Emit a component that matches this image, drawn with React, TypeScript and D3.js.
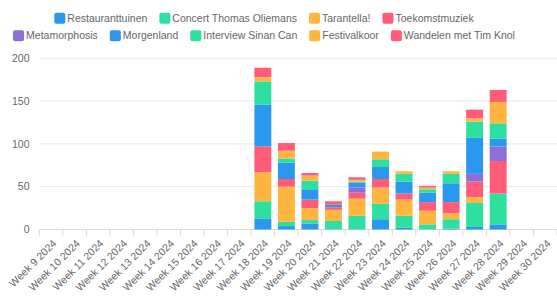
import * as d3 from "d3";
import { useEffect, useRef } from "react";

const weeks = [
  "Week 9 2024", "Week 10 2024", "Week 11 2024", "Week 12 2024", "Week 13 2024",
  "Week 14 2024", "Week 15 2024", "Week 16 2024", "Week 17 2024", "Week 18 2024",
  "Week 19 2024", "Week 20 2024", "Week 21 2024", "Week 22 2024", "Week 23 2024",
  "Week 24 2024", "Week 25 2024", "Week 26 2024", "Week 27 2024", "Week 28 2024",
  "Week 29 2024", "Week 30 2024",
];

const seriesNames = [
  "Restauranttuinen", "Concert Thomas Oliemans", "Tarantella!", "Toekomstmuziek",
  "Metamorphosis", "Morgenland", "Interview Sinan Can", "Festivalkoor", "Wandelen met Tim Knol",
];

const seriesColors = [
  "#2b98f0", "#2ee0a0", "#ffb53f", "#ff5c7a", "#8c6fd6", "#2b98f0", "#2ee0a0", "#ffb53f", "#ff5c7a",
];

// weeks 9..30
const restauranttuinen = [0, 0, 0, 0, 0, 0, 0, 0, 0, 13, 4, 7, 0, 0, 12, 2, 0, 1, 3, 6, 0, 0];
const concertThomasOliemans = [0, 0, 0, 0, 0, 0, 0, 0, 0, 20, 5, 4, 10, 16, 18, 14, 6, 11, 28, 36, 0, 0];
const tarantella = [0, 0, 0, 0, 0, 0, 0, 0, 0, 34, 41, 14, 13, 20, 19, 19, 16, 7, 7, 0, 0, 0];
const toekomstmuziek = [0, 0, 0, 0, 0, 0, 0, 0, 0, 30, 9, 10, 3, 7, 10, 7, 10, 13, 18, 38, 0, 0];
const metamorphosis = [0, 0, 0, 0, 0, 0, 0, 0, 0, 0, 0, 0, 0, 6, 0, 0, 0, 0, 9, 17, 0, 0];
const morgenland = [0, 0, 0, 0, 0, 0, 0, 0, 0, 49, 19, 12, 3, 6, 14, 14, 11, 22, 42, 9, 0, 0];
const interviewSinanCan = [0, 0, 0, 0, 0, 0, 0, 0, 0, 27, 5, 10, 0, 1, 9, 9, 4, 11, 19, 18, 0, 0];
const festivalkoor = [0, 0, 0, 0, 0, 0, 0, 0, 0, 5, 9, 6, 0, 2, 9, 3, 2, 3, 4, 25, 0, 0];
const wandelenMetTimKnol = [0, 0, 0, 0, 0, 0, 0, 0, 0, 11, 9, 3, 4, 3, 0, 0, 2, 0, 10, 14, 0, 0];

const seriesValues = [
  restauranttuinen, concertThomasOliemans, tarantella, toekomstmuziek, metamorphosis,
  morgenland, interviewSinanCan, festivalkoor, wandelenMetTimKnol,
];

const yTicks = [0, 50, 100, 150, 200];
const legendRows = [4, 5];

const App = () => {
  const ref = useRef<SVGSVGElement>(null);

  useEffect(() => {
    const svg = d3.select(ref.current);
    svg.selectAll("*").remove();
    const width = 557;
    const left = 39.3;
    const right = 557;
    const top = 58.3;
    const bottom = 229.5;
    const font = "'Helvetica Neue', Helvetica, 'Liberation Sans', Arial, sans-serif";
    const textColor = "#666";
    const fontSize = 10.5;

    const x = d3.scaleBand<string>().domain(weeks).range([left, right]).paddingInner(0.28).paddingOuter(0.14);
    const y = d3.scaleLinear().domain([0, 200]).range([bottom, top]);

    // grid
    svg.append("g")
      .selectAll("line")
      .data(yTicks)
      .join("line")
      .attr("x1", left)
      .attr("x2", width)
      .attr("y1", (d) => y(d))
      .attr("y2", (d) => y(d))
      .attr("stroke", (d) => (d === 0 ? "#d9d9d9" : "#e8e8e8"))
      .attr("stroke-width", 1);

    svg.append("g")
      .selectAll("text")
      .data(yTicks)
      .join("text")
      .attr("x", 29.5)
      .attr("y", (d) => y(d))
      .attr("dy", "0.35em")
      .attr("text-anchor", "end")
      .attr("font-family", font)
      .attr("font-size", fontSize)
      .attr("fill", textColor)
      .text((d) => d);

    // x ticks at category edges
    const step = x.step();
    const edges = d3.range(weeks.length + 1).map((i) => left + i * step);
    svg.append("g")
      .selectAll("line")
      .data(edges)
      .join("line")
      .attr("x1", (d) => d)
      .attr("x2", (d) => d)
      .attr("y1", bottom)
      .attr("y2", bottom + 6)
      .attr("stroke", "#d9d9d9");

    svg.append("g")
      .selectAll("text")
      .data(weeks)
      .join("text")
      .attr("transform", (d) => `translate(${(x(d) ?? 0) + x.bandwidth() / 2 + 3.5},${bottom + 12}) rotate(-45)`)
      .attr("dy", "0.35em")
      .attr("text-anchor", "end")
      .attr("font-family", font)
      .attr("font-size", fontSize)
      .attr("fill", textColor)
      .text((d) => d);

    // bars
    const table = weeks.map((w, i) => {
      const row: Record<string, number | string> = { week: w };
      seriesNames.forEach((name, k) => (row[name] = seriesValues[k][i]));
      return row;
    });
    const stacked = d3.stack<any>().keys(seriesNames)(table);

    svg.append("g")
      .selectAll("g")
      .data(stacked)
      .join("g")
      .attr("fill", (_, i) => seriesColors[i])
      .selectAll("rect")
      .data((d) => d.filter((p) => p[1] - p[0] > 0))
      .join("rect")
      .attr("x", (d) => x(d.data.week as string) ?? 0)
      .attr("width", x.bandwidth())
      .attr("y", (d) => y(d[1]))
      .attr("height", (d) => y(d[0]) - y(d[1]));

    // legend
    const legend = svg.append("g");
    const boxSize = 11;
    const textGap = 13;
    const itemGap = 12;
    const rowY = [18.3, 35.7];
    const centerX = 264;
    let start = 0;
    legendRows.forEach((count, r) => {
      const names = seriesNames.slice(start, start + count);
      const colors = seriesColors.slice(start, start + count);
      start += count;
      const rowG = legend.append("g");
      const items = names.map((name, i) => {
        const g = rowG.append("g");
        g.append("rect")
          .attr("width", boxSize)
          .attr("height", boxSize)
          .attr("y", -boxSize / 2)
          .attr("rx", 2)
          .attr("fill", colors[i]);
        const t = g.append("text")
          .attr("x", textGap)
          .attr("dy", "0.35em")
          .attr("font-family", font)
          .attr("font-size", fontSize)
          .attr("fill", textColor)
          .text(name);
        const w = (t.node() as SVGTextElement).getComputedTextLength();
        return { g, w: textGap + w };
      });
      const total = d3.sum(items, (d) => d.w) + itemGap * (items.length - 1);
      let cx = centerX - total / 2;
      items.forEach((it) => {
        it.g.attr("transform", `translate(${cx},${rowY[r]})`);
        cx += it.w + itemGap;
      });
    });

    return () => {
      svg.selectAll("*").remove();
    };
  }, []);

  return <svg ref={ref} width={557} height={296} style={{ position: "absolute", left: 0, top: 0 }}></svg>;
};

export default App;
